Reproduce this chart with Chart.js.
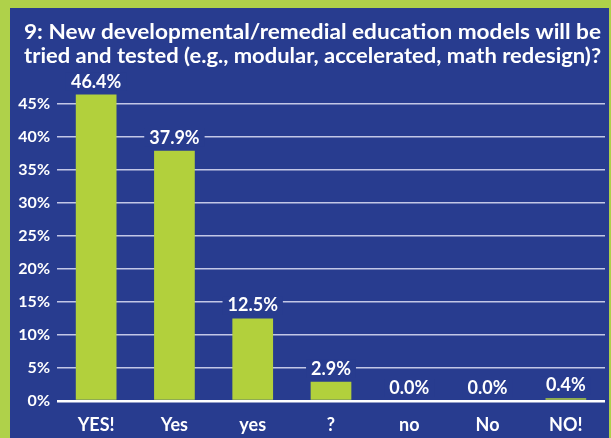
<!DOCTYPE html>
<html lang="en">
  <head>
    <meta charset="UTF-8" />
    <title>Question 9</title>
    <style>
      html, body {
        margin: 0;
        padding: 0;
        background: #afd14a;
        width: 611px;
        height: 438px;
        overflow: hidden;
      }
      .panel {
        position: absolute;
        left: 10px;
        top: 8px;
        width: 599px;
        height: 430px;
        background: #283c8f;
      }
    </style>
  </head>
  <body>
    <div class="panel">
      <canvas id="chart" width="599" height="430"></canvas>
    </div>
    <script src="https://cdn.jsdelivr.net/npm/chart.js"></script>
    <script>
      const titleLines = [
        "9: New developmental/remedial education models will be",
        "tried and tested (e.g., modular, accelerated, math redesign)?"
      ];
      const answers = ["YES!", "Yes", "yes", "?", "no", "No", "NO!"];
      const percents = [46.4, 37.9, 12.5, 2.9, 0.0, 0.0, 0.4];
      const yTicks = [0, 5, 10, 15, 20, 25, 30, 35, 40, 45];

      const BLUE = "#283c8f";
      const FONT = "Lato, 'Open Sans', sans-serif";

      // two title lines, each stretched to the same width like the original
      const titlePlugin = {
        id: "titleLines",
        afterDraw(chart) {
          const ctx = chart.ctx;
          ctx.save();
          ctx.fillStyle = "#fff";
          ctx.font = "bold 21px " + FONT;
          ctx.textBaseline = "alphabetic";
          titleLines.forEach((line, i) => {
            const w = ctx.measureText(line).width;
            ctx.save();
            ctx.translate(14, 31 + i * 24);
            ctx.scale(577 / w, 1);
            ctx.fillText(line, 0, 0);
            ctx.restore();
          });
          ctx.restore();
        }
      };

      // value labels above bars, with a box that cuts the grid lines
      const valueLabels = {
        id: "valueLabels",
        afterDatasetsDraw(chart) {
          const ctx = chart.ctx;
          const meta = chart.getDatasetMeta(0);
          ctx.save();
          ctx.font = "bold 18px " + FONT;
          ctx.textAlign = "center";
          ctx.textBaseline = "alphabetic";
          meta.data.forEach((bar, i) => {
            const txt = percents[i].toFixed(1) + "%";
            const w = ctx.measureText(txt).width;
            const y = bar.y - 7;
            ctx.fillStyle = BLUE;
            ctx.fillRect(bar.x - w / 2 - 5, y - 15, w + 10, 18);
            ctx.fillStyle = "#fff";
            ctx.fillText(txt, bar.x, y);
          });
          ctx.restore();
        }
      };

      new Chart(document.getElementById("chart"), {
        type: "bar",
        data: {
          labels: answers,
          datasets: [
            {
              data: percents,
              backgroundColor: "#b2d03c",
              barPercentage: 0.52,
              categoryPercentage: 1
            }
          ]
        },
        options: {
          responsive: false,
          animation: false,
          layout: { padding: { top: 76, right: 4, left: 0, bottom: 0 } },
          plugins: {
            legend: { display: false },
            title: { display: false },
            tooltip: { enabled: false }
          },
          scales: {
            x: {
              grid: { display: false },
              border: { display: false },
              ticks: {
                color: "#fff",
                padding: 5,
                font: { family: FONT, size: 18, weight: "bold" }
              },
              afterFit(scale) {
                scale.height = 37;
              }
            },
            y: {
              min: 0,
              max: 48,
              afterBuildTicks(axis) {
                axis.ticks = yTicks.map(v => ({ value: v }));
              },
              afterFit(scale) {
                scale.width = 47;
              },
              border: { display: false },
              grid: {
                drawTicks: false,
                color: c => (c.tick && c.tick.value === 0 ? "#ffffff" : "#c3c7e6"),
                lineWidth: c => (c.tick && c.tick.value === 0 ? 2.5 : 1.5)
              },
              ticks: {
                color: "#fff",
                padding: 7,
                font: { family: FONT, size: 16, weight: "bold" },
                callback: v => v + "%"
              }
            }
          }
        },
        plugins: [titlePlugin, valueLabels]
      });
    </script>
  </body>
</html>
